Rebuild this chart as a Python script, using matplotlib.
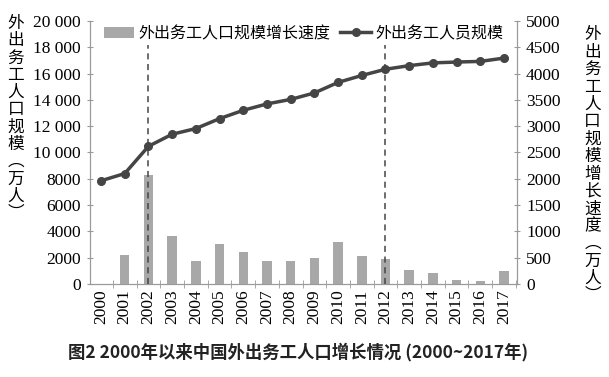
import matplotlib.pyplot as plt
import numpy as np
from matplotlib import font_manager
from matplotlib.font_manager import FontProperties
from matplotlib.ticker import FixedLocator

plt.rcParams['font.family'] = ['Noto Sans CJK SC', 'DejaVu Sans']

years = [str(y) for y in range(2000, 2018)]
# migrant workers (10k people), left axis
workers = [7849, 8399, 10470, 11390, 11823, 12578, 13212, 13697, 14041,
           14533, 15335, 15863, 16336, 16610, 16821, 16884, 16934, 17185]
# yearly growth (10k people), right axis
growth = [0, 550, 2070, 920, 440, 750, 610, 440, 440,
          495, 800, 530, 475, 270, 210, 70, 50, 250]
marked_years = [2, 12]

left_ticks = list(range(0, 20001, 2000))
left_labels = ["0", "2000", "4000", "6000", "8000", "10 000", "12 000",
               "14 000", "16 000", "18 000", "20 000"]
right_ticks = list(range(0, 5001, 500))

serif_path = font_manager.findfont(FontProperties(family="Liberation Serif"))
serif_fp = FontProperties(fname=serif_path, size=12.5)

line_c = "#454545"
bar_c = "#a8a8a8"
spine_c = "#9a9a9a"

fig = plt.figure(figsize=(6.09, 3.77), dpi=100)
ax = fig.add_axes([0.148, 0.247, 0.701, 0.697])
ax2 = ax.twinx()

x = np.arange(len(years))
ax2.bar(x, growth, width=0.4, color=bar_c, label="外出务工人口规模增长速度", zorder=1)
ax.plot(x, workers, color=line_c, lw=2.5, marker="o", ms=5.5,
        label="外出务工人员规模", zorder=3)
for i in marked_years:
    ax.plot([i, i], [0, 18200], color=line_c, lw=1.1, ls=(0, (4, 3)), zorder=2)

ax.set_zorder(ax2.get_zorder() + 1)
ax.patch.set_visible(False)

ax.set_xlim(-0.46, 17.55)
ax.set_ylim(0, 20000)
ax2.set_ylim(0, 5000)

ax.set_yticks(left_ticks)
ax.set_yticklabels(left_labels, fontproperties=serif_fp)
ax2.set_yticks(right_ticks)
ax2.set_yticklabels([str(v) for v in right_ticks], fontproperties=serif_fp)

ax.set_xticks(x)
ax.set_xticklabels(years, rotation=90, fontproperties=serif_fp)
ax.tick_params(axis="x", length=0, pad=4)
ax.xaxis.set_minor_locator(FixedLocator(np.arange(-0.5, 17.6, 1.0)))
ax.tick_params(axis="x", which="minor", length=6, direction="inout", color=spine_c)
ax.tick_params(axis="y", length=5, direction="inout", color=spine_c, pad=4)
ax2.tick_params(axis="y", length=5, direction="inout", color=spine_c, pad=4)

for a in (ax, ax2):
    a.spines["top"].set_visible(False)
    for s in ("left", "right", "bottom"):
        a.spines[s].set_color(spine_c)

# vertical axis titles, stacked characters
fig.text(0.026, 0.96, "\n".join("外出务工人口规模︵万人︶"), ha="center", va="top",
         fontsize=12, linespacing=1.02)
fig.text(0.973, 0.93, "\n".join("外出务工人口规模增长速度︵万人︶"), ha="center", va="top",
         fontsize=12, linespacing=1.03)

h1, l1 = ax2.get_legend_handles_labels()
h2, l2 = ax.get_legend_handles_labels()
ax.legend(h1 + h2, l1 + l2, loc="upper center", bbox_to_anchor=(0.5, 1.04), ncol=2,
          frameon=False, fontsize=11.5, handlelength=1.9, handletextpad=0.3,
          columnspacing=0.6)

fig.text(0.112, 0.065, "图2 2000年以来中国外出务工人口增长情况 (2000~2017年)",
         fontsize=12.5, fontweight="bold", color="#222222", ha="left", va="center")

fig.savefig("out.png", dpi=100)
